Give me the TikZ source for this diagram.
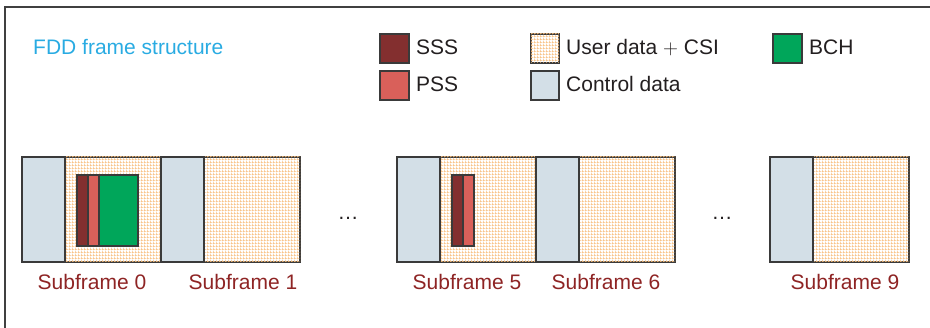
\documentclass[tikz,border=0pt]{standalone}
\usepackage{fontspec}
\setmainfont{Liberation Sans}
\usetikzlibrary{patterns}

\definecolor{fddblue}{RGB}{41,171,226}
\definecolor{sssred}{RGB}{131,47,47}
\definecolor{pssred}{RGB}{217,96,90}
\definecolor{bchgreen}{RGB}{0,166,90}
\definecolor{ctrlgrey}{RGB}{211,223,231}
\definecolor{userorange}{RGB}{248,190,125}
\definecolor{labelred}{RGB}{142,36,36}
\definecolor{edgegrey}{RGB}{58,58,58}
\definecolor{textgrey}{RGB}{35,31,32}

\pgfdeclarepatternformonly{usergrid}{\pgfpointorigin}{\pgfpoint{3pt}{3pt}}{\pgfpoint{3pt}{3pt}}{
    \pgfpathrectangle{\pgfpointorigin}{\pgfpoint{3pt}{0.9pt}}
    \pgfpathrectangle{\pgfpointorigin}{\pgfpoint{0.9pt}{3pt}}
    \pgfusepath{fill}
}

\tikzset{
    box/.style={draw=edgegrey, line width=1.8pt},
    ctrl/.style={box, fill=ctrlgrey},
    user/.style={box, fill=white, postaction={pattern=usergrid, pattern color=userorange}},
    sss/.style={box, fill=sssred},
    pss/.style={box, fill=pssred},
    bch/.style={box, fill=bchgreen},
    legtext/.style={anchor=base west, inner sep=0pt, text=textgrey},
    sublabel/.style={anchor=base, inner sep=0pt, text=labelred},
}

\begin{document}
\begin{tikzpicture}[x=1pt, y=-1pt, font=\fontsize{21}{25}\selectfont]
    \useasboundingbox (0, 0) rectangle (930, 328);

    \draw [line width=2pt, black!75] (5, 328) |- (930, 7);

    % legend
    \node [legtext, text=fddblue] (title) at (33, 55) {FDD frame structure};

    \draw [sss] (380, 34) rectangle (409, 63);
    \node [legtext] (ssstext) at (416, 55) {SSS};
    \draw [pss] (380, 71) rectangle (409, 100);
    \node [legtext] (psstext) at (416, 92) {PSS};
    \draw [user] (531, 34) rectangle (559, 63);
    \node [legtext] (usertext) at (566, 55) {User data $+$ CSI};
    \draw [ctrl] (531, 71) rectangle (559, 100);
    \node [legtext] (ctrltext) at (566, 92) {Control data};
    \draw [bch] (773, 34) rectangle (802, 63);
    \node [legtext] (bchtext) at (809, 55) {BCH};

    % subframes
    \foreach \x/\lx/\n in {22/92/0, 161/243/1, 397/467/5, 536/606/6, 770/845/9} {
        \draw [user] (\x+43, 157) rectangle (\x+139, 262);
        \draw [ctrl] (\x, 157) rectangle (\x+43, 262);
        \node [sublabel] (sub\n) at (\lx, 290) {Subframe \n};
        }

    % sync and broadcast channels
    \draw [bch] (99, 175) rectangle (138, 246);
    \draw [pss] (88, 175) rectangle (99, 246);
    \draw [sss] (77, 175) rectangle (88, 246);
    \draw [pss] (463, 175) rectangle (474, 246);
    \draw [sss] (452, 175) rectangle (463, 246);

    \node [text=textgrey] (gapa) at (348, 218) {\dots};
    \node [text=textgrey] (gapb) at (722, 218) {\dots};
\end{tikzpicture}
\end{document}
